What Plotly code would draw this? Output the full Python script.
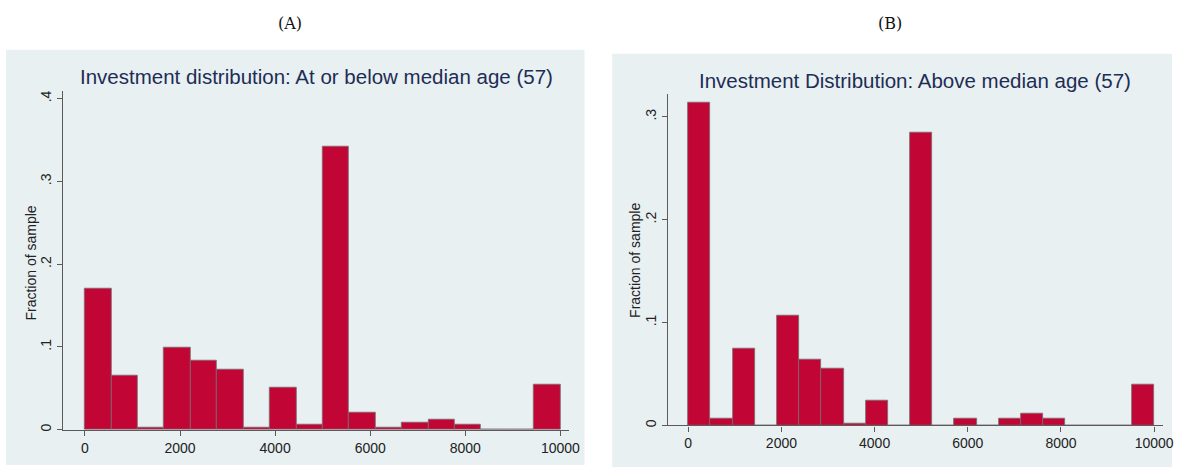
import plotly.graph_objects as go

W, H = 1183, 469

# ---------------- data ----------------
# Panel A: 18 equal bins over 0..10000
a_bin_min, a_bin_max, a_nbins = 0, 10000, 18
a_fraction = [0.171, 0.066, 0.003, 0.099, 0.084, 0.073, 0.003, 0.051, 0.006,
              0.342, 0.021, 0.003, 0.009, 0.012, 0.006, 0.0, 0.0, 0.054]
# Panel B: 21 equal bins over 0..10000
b_bin_min, b_bin_max, b_nbins = 0, 10000, 21
b_fraction = [0.3135, 0.0068, 0.0745, 0.0, 0.1065, 0.0645, 0.0552, 0.002, 0.0245,
              0.0, 0.2845, 0.0, 0.0068, 0.0, 0.0068, 0.0113, 0.0068, 0.0, 0.0, 0.0,
              0.0394]

x_ticks = [0, 2000, 4000, 6000, 8000, 10000]
x_ticklabels = ["0", "2000", "4000", "6000", "8000", "10000"]
a_y_ticks = [0, 0.1, 0.2, 0.3, 0.4]
a_y_ticklabels = ["0", ".1", ".2", ".3", ".4"]
b_y_ticks = [0, 0.1, 0.2, 0.3]
b_y_ticklabels = ["0", ".1", ".2", ".3"]

title_a = "Investment distribution: At or below median age (57)"
title_b = "Investment Distribution: Above median age (57)"
ytitle = "Fraction of sample"
label_a = "(A)"
label_b = "(B)"

# ---------------- styles ----------------
BG = "#e8f0f2"
BAR = "#c10534"
BAR_LINE = "#7a6a6e"
AXIS = "#5a5a5a"
TITLE_C = "#1e2d55"
TICK_C = "#222222"
SANS = "Liberation Sans, Arial, sans-serif"


def px(x):
    return x / W


def py(y):
    return 1 - y / H


def bins(lo, hi, n):
    w = (hi - lo) / n
    return [lo + w * (i + 0.5) for i in range(n)], w


fig = go.Figure()

ax_c, ax_w = bins(a_bin_min, a_bin_max, a_nbins)
bx_c, bx_w = bins(b_bin_min, b_bin_max, b_nbins)

fig.add_trace(go.Bar(x=ax_c, y=a_fraction, width=ax_w, xaxis="x", yaxis="y",
                     marker=dict(color=BAR, line=dict(color=BAR_LINE, width=0.8)),
                     showlegend=False, hoverinfo="x+y"))
fig.add_trace(go.Bar(x=bx_c, y=b_fraction, width=bx_w, xaxis="x2", yaxis="y2",
                     marker=dict(color=BAR, line=dict(color=BAR_LINE, width=0.8)),
                     showlegend=False, hoverinfo="x+y"))

# Panel geometry (pixels)
A_L, A_R, A_T, A_B = 63.3, 574, 91, 431.6
B_L, B_R, B_T, B_B = 674.3, 1174, 94, 427.3

# pixel anchors of tick values
A_X0, A_X1 = 85.7, 565.7      # x of 0 and 10000
A_Y0, A_Y4 = 431.6, 99.0      # y of 0 and .4
B_X0, B_X1 = 694.7, 1165.0
B_Y0, B_Y3 = 427.3, 117.3     # y of 0 and .3

a_pxper = (A_X1 - A_X0) / 10000.0
a_xr = [-(A_X0 - A_L) / a_pxper, 10000 + (A_R - A_X1) / a_pxper]
a_ypx = (A_Y0 - A_Y4) / 0.4
a_yr = [0, (A_B - A_T) / a_ypx]

b_pxper = (B_X1 - B_X0) / 10000.0
b_xr = [-(B_X0 - B_L) / b_pxper, 10000 + (B_R - B_X1) / b_pxper]
b_ypx = (B_Y0 - B_Y3) / 0.3
b_yr = [0, (B_B - B_T) / b_ypx]

tickfont = dict(family=SANS, size=14, color=TICK_C)

common_x = dict(showgrid=False, zeroline=False, showline=True, linecolor=AXIS, linewidth=1.2,
                ticks="outside", ticklen=5, tickcolor=AXIS, tickwidth=1,
                tickvals=x_ticks, ticktext=x_ticklabels, tickfont=tickfont, fixedrange=True)
common_y = dict(showgrid=False, zeroline=False, showline=True, linecolor=AXIS, linewidth=1.2,
                ticks="outside", ticklen=5, tickcolor=AXIS, tickwidth=1,
                tickangle=-90, tickfont=tickfont, fixedrange=True)


def ann(text, x, y, font, angle=0):
    return dict(text=text, xref="paper", yref="paper", x=px(x), y=py(y),
                xanchor="center", yanchor="middle", textangle=angle,
                showarrow=False, font=font)


fig.update_layout(
    width=W, height=H,
    margin=dict(l=0, r=0, t=0, b=0),
    paper_bgcolor="white",
    plot_bgcolor="rgba(0,0,0,0)",
    bargap=0,
    xaxis=dict(domain=[px(A_L), px(A_R)], range=a_xr, anchor="y", **common_x),
    yaxis=dict(domain=[py(A_B), py(A_T)], range=a_yr, anchor="x",
               tickvals=a_y_ticks, ticktext=a_y_ticklabels, **common_y),
    xaxis2=dict(domain=[px(B_L), px(B_R)], range=b_xr, anchor="y2", **common_x),
    yaxis2=dict(domain=[py(B_B), py(B_T)], range=b_yr, anchor="x2",
                tickvals=b_y_ticks, ticktext=b_y_ticklabels, **common_y),
    shapes=[
        dict(type="rect", xref="paper", yref="paper", layer="below",
             x0=px(6), x1=px(590), y0=py(467), y1=py(50),
             fillcolor=BG, line=dict(width=0)),
        dict(type="rect", xref="paper", yref="paper", layer="below",
             x0=px(618), x1=px(1183), y0=py(469), y1=py(54),
             fillcolor=BG, line=dict(width=0)),
    ],
    annotations=[
        ann(label_a, 293, 24, dict(family="DejaVu Serif, serif", size=16, color="#111")),
        ann(label_b, 898, 24, dict(family="DejaVu Serif, serif", size=16, color="#111")),
        ann(title_a, 319, 77, dict(family=SANS, size=20.5, color=TITLE_C)),
        ann(title_b, 924, 81, dict(family=SANS, size=20.5, color=TITLE_C)),
        ann(ytitle, 31, 264, dict(family=SANS, size=14, color=TICK_C), -90),
        ann(ytitle, 641, 262, dict(family=SANS, size=14, color=TICK_C), -90),
    ],
)

fig.write_html("out.html", config={"displayModeBar": False},
               post_script="document.body.style.margin='0';")
